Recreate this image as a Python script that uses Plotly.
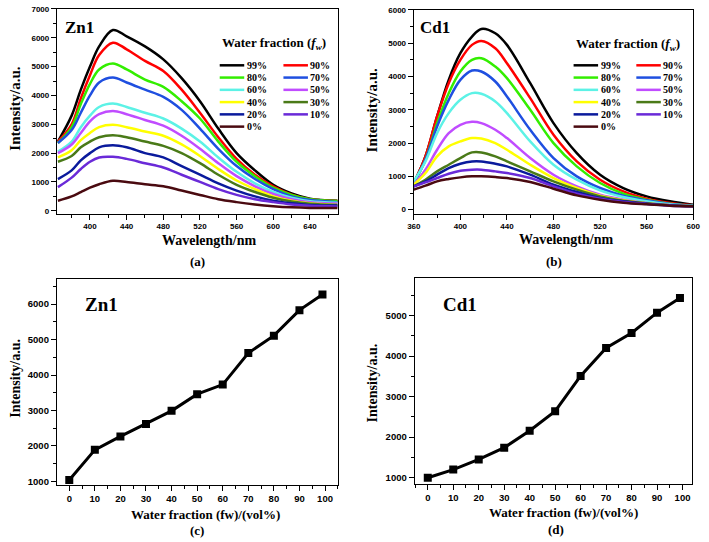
import plotly.graph_objects as go

W, H = 709, 542

# ---------------- data ----------------
fractions = ["99%", "90%", "80%", "70%", "60%", "50%", "40%", "30%", "20%", "10%", "0%"]
colors = ["#000000", "#FF0000", "#33EE00", "#1F4FE0", "#5CF2E6", "#C04CFF",
          "#FFFF00", "#4A7A18", "#0A1A9C", "#6A2AD8", "#4A0A10"]

zn_wl = [365, 380, 390, 400, 410, 425, 440, 460, 480, 500, 520, 540, 560, 580, 600, 620, 640, 670]
zn_99 = [2400, 3300, 4200, 5000, 5700, 6270, 6050, 5700, 5250, 4600, 3800, 2850, 2000, 1400, 900, 600, 420, 350]
zn_90 = [2400, 3000, 3900, 4700, 5400, 5830, 5600, 5200, 4850, 4200, 3400, 2550, 1800, 1250, 850, 560, 400, 340]
zn_80 = [2350, 2900, 3700, 4400, 4900, 5110, 4900, 4550, 4300, 3800, 3200, 2400, 1700, 1200, 800, 550, 400, 340]
zn_70 = [2350, 2800, 3400, 4000, 4450, 4620, 4450, 4200, 3950, 3500, 2850, 2150, 1550, 1100, 750, 500, 370, 300]
zn_60 = [2050, 2400, 2900, 3300, 3600, 3720, 3600, 3400, 3200, 2850, 2400, 1850, 1350, 950, 650, 450, 330, 280]
zn_50 = [2000, 2300, 2700, 3100, 3350, 3460, 3350, 3150, 2950, 2600, 2150, 1650, 1200, 850, 580, 400, 300, 250]
zn_40 = [1850, 2100, 2450, 2700, 2900, 2980, 2900, 2750, 2600, 2300, 1900, 1450, 1050, 750, 500, 350, 260, 200]
zn_30 = [1700, 1900, 2200, 2400, 2550, 2620, 2550, 2400, 2250, 2000, 1650, 1250, 900, 650, 450, 320, 240, 200]
zn_20 = [1100, 1400, 1750, 2000, 2200, 2270, 2200, 2000, 1850, 1550, 1250, 950, 700, 500, 350, 260, 200, 180]
zn_10 = [820, 1150, 1450, 1700, 1850, 1870, 1800, 1650, 1500, 1250, 1000, 750, 550, 400, 300, 220, 170, 150]
zn_00 = [350, 500, 650, 800, 920, 1040, 1000, 920, 850, 700, 550, 400, 300, 220, 160, 120, 100, 100]
zn_spectra = [zn_99, zn_90, zn_80, zn_70, zn_60, zn_50, zn_40, zn_30, zn_20, zn_10, zn_00]

cd_wl = [360, 370, 380, 390, 400, 410, 418, 430, 440, 460, 480, 500, 520, 540, 560, 580, 600]
cd_99 = [800, 1600, 2800, 3900, 4700, 5200, 5430, 5300, 4950, 3800, 2600, 1700, 1050, 650, 400, 250, 150]
cd_90 = [800, 1600, 2800, 3800, 4500, 4950, 5070, 4850, 4400, 3350, 2250, 1450, 900, 550, 330, 200, 130]
cd_80 = [800, 1500, 2600, 3500, 4150, 4500, 4550, 4300, 3950, 3000, 2000, 1300, 800, 480, 300, 180, 120]
cd_70 = [800, 1500, 2500, 3300, 3900, 4180, 4150, 3850, 3400, 2400, 1550, 1000, 650, 420, 280, 170, 120]
cd_60 = [850, 1450, 2300, 2900, 3300, 3500, 3480, 3250, 2900, 2050, 1350, 900, 580, 380, 250, 160, 110]
cd_50 = [750, 1200, 1800, 2300, 2550, 2640, 2600, 2400, 2150, 1550, 1050, 700, 450, 300, 200, 140, 100]
cd_40 = [750, 1100, 1600, 1900, 2050, 2150, 2140, 2000, 1800, 1350, 950, 650, 420, 280, 190, 130, 100]
cd_30 = [700, 900, 1150, 1350, 1550, 1720, 1720, 1600, 1450, 1150, 850, 600, 400, 270, 190, 130, 100]
cd_20 = [700, 850, 1050, 1250, 1380, 1450, 1450, 1380, 1300, 1050, 750, 530, 350, 250, 180, 130, 100]
cd_10 = [700, 820, 950, 1080, 1170, 1200, 1200, 1150, 1100, 950, 700, 480, 330, 230, 170, 120, 100]
cd_00 = [600, 720, 850, 920, 970, 1000, 1000, 980, 950, 830, 630, 430, 300, 210, 160, 120, 100]
cd_spectra = [cd_99, cd_90, cd_80, cd_70, cd_60, cd_50, cd_40, cd_30, cd_20, cd_10, cd_00]

fw = [0, 10, 20, 30, 40, 50, 60, 70, 80, 90, 99]
zn_max = [1040, 1890, 2270, 2620, 2990, 3460, 3730, 4620, 5110, 5830, 6270]
cd_max = [1000, 1200, 1450, 1740, 2160, 2640, 3510, 4200, 4570, 5070, 5430]

# ---------------- helpers ----------------
def px(x):
    return x / W

def py(y):
    return 1 - y / H

SERIF = "Liberation Serif"
SANS = "Liberation Sans"

fig = go.Figure()

for name, col, ys in zip(fractions, colors, zn_spectra):
    fig.add_trace(go.Scatter(x=zn_wl, y=ys, mode="lines", name=name, showlegend=False,
                             line=dict(color=col, width=2.5, shape="spline", smoothing=1.0),
                             xaxis="x", yaxis="y"))
for name, col, ys in zip(fractions, colors, cd_spectra):
    fig.add_trace(go.Scatter(x=cd_wl, y=ys, mode="lines", name=name, showlegend=False,
                             line=dict(color=col, width=2.5, shape="spline", smoothing=1.0),
                             xaxis="x2", yaxis="y2"))

fig.add_trace(go.Scatter(x=fw, y=zn_max, mode="lines+markers", showlegend=False,
                         line=dict(color="black", width=3),
                         marker=dict(symbol="square", size=8, color="black"),
                         xaxis="x3", yaxis="y3"))
fig.add_trace(go.Scatter(x=fw, y=cd_max, mode="lines+markers", showlegend=False,
                         line=dict(color="black", width=3),
                         marker=dict(symbol="square", size=8, color="black"),
                         xaxis="x4", yaxis="y4"))


def axis(domain, rng, dtick, tick0, mdtick, anchor, fsize):
    return dict(domain=domain, range=rng, dtick=dtick, tick0=tick0, anchor=anchor,
                showgrid=False, zeroline=False, showline=True, mirror=True,
                linecolor="black", linewidth=1.3, ticks="outside", ticklen=5,
                tickwidth=1.2, tickcolor="black",
                tickprefix="<b>", ticksuffix="</b>",
                tickfont=dict(family=SANS, size=fsize, color="black"),
                minor=dict(dtick=mdtick, tick0=tick0, ticks="outside", ticklen=3,
                           tickwidth=1, tickcolor="black"))

fig.update_layout(
    width=W, height=H, margin=dict(l=0, r=0, t=0, b=0),
    paper_bgcolor="white", plot_bgcolor="white", showlegend=False,
    xaxis=axis([px(51), px(338)], [364, 671], 40, 400, 20, "y", 8),
    yaxis=axis([py(212), py(5)], [-100, 7000], 1000, 0, 500, "x", 8),
    xaxis2=axis([px(415), px(700)], [360, 600], 40, 360, 20, "y2", 8),
    yaxis2=axis([py(212), py(6)], [-120, 6000], 1000, 0, 500, "x2", 8),
    xaxis3=axis([px(51), px(338)], [-4.8, 105.2], 10, 0, 5, "y3", 9.5),
    yaxis3=axis([py(486), py(278)], [910, 6710], 1000, 0, 500, "x3", 9.5),
    xaxis4=axis([px(416), px(699)], [-5.1, 103.8], 10, 0, 5, "y4", 9.5),
    yaxis4=axis([py(485), py(277)], [854, 5927], 1000, 0, 500, "x4", 9.5),
)

annotations = []
shapes = []

def text(x, y, s, size, angle=0):
    annotations.append(dict(x=px(x), y=py(y), xref="paper", yref="paper", text="<b>" + s + "</b>",
                            showarrow=False, textangle=angle, xanchor="center", yanchor="middle",
                            font=dict(family=SERIF, size=size, color="black")))

def ltext(x, y, s, size):
    annotations.append(dict(x=px(x), y=py(y), xref="paper", yref="paper", text="<b>" + s + "</b>",
                            showarrow=False, xanchor="left", yanchor="middle",
                            font=dict(family=SERIF, size=size, color="black")))

# panel labels
text(74, 24, "Zn1", 17)
text(437, 24, "Cd1", 17)
text(96, 304, "Zn1", 19)
text(462, 304, "Cd1", 19)

# axis titles
text(8, 106, "Intensity/a.u.", 15, -90)
text(372, 108, "Intensity/a.u.", 15, -90)
text(9, 378, "Intensity/a.u.", 14, -90)
text(373, 383, "Intensity/a.u.", 14, -90)
text(206, 239, "Wavelength/nm", 14)
text(570, 238, "Wavelength/nm", 14)
text(194, 260, "(a)", 13)
text(558, 260, "(b)", 13)
text(202, 516, "Water fraction (fw)/(vol%)", 13)
text(568, 514, "Water fraction (fw)/(vol%)", 13)
text(194, 532, "(c)", 13)
text(560, 531, "(d)", 13)

# legends
title = "Water fraction (<i>f</i><sub><i>w</i></sub>)"
text(272, 40, title, 13)
text(633, 41, title, 13)

legend_cols = [
    ((217, 242, 243), (282, 307, 307)),   # panel a
    ((578, 603, 604), (642, 667, 667)),   # panel b
]
for cols in legend_cols:
    for i, (name, col) in enumerate(zip(fractions, colors)):
        c = cols[i % 2]
        yy = 62 + (i // 2) * 12.4
        shapes.append(dict(type="line", xref="paper", yref="paper",
                           x0=px(c[0]), x1=px(c[1]), y0=py(yy), y1=py(yy),
                           line=dict(color=col, width=2.5)))
        ltext(c[2], yy, name, 10)

fig.update_layout(annotations=annotations, shapes=shapes)
fig.write_html("out.html",
               config={"displayModeBar": False},
               post_script="document.body.style.margin='0';document.body.style.overflow='hidden';")
